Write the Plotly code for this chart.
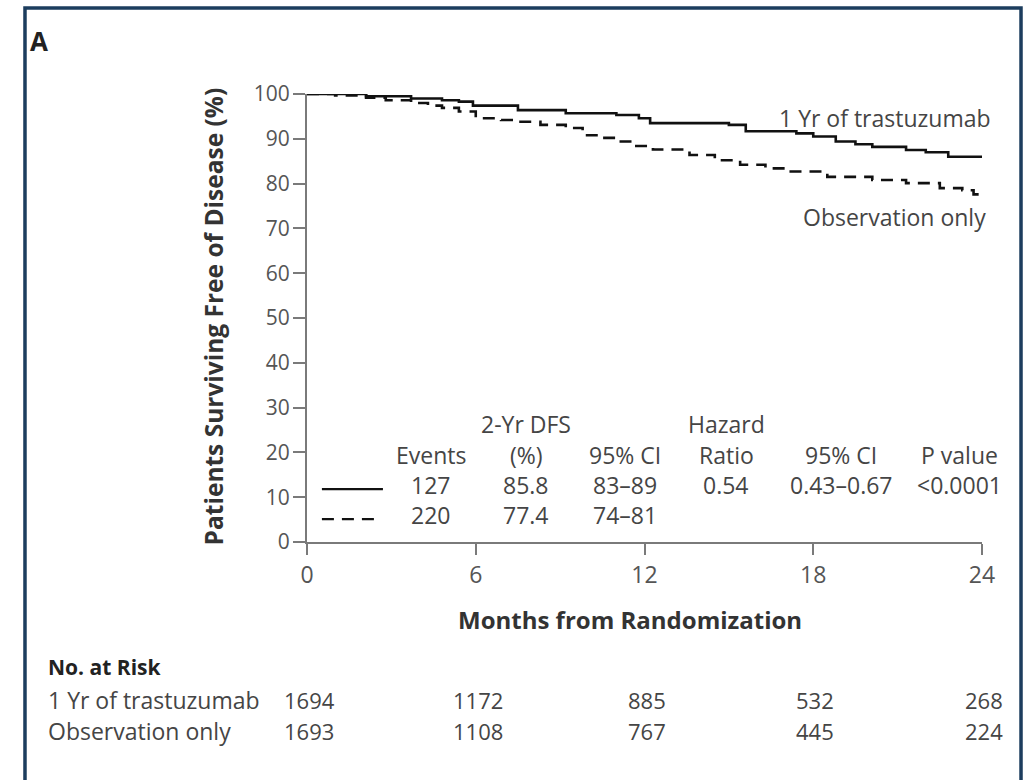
import plotly.graph_objects as go

# ---- data ----
trast_months = [0, 1.5, 2.1, 3.7, 4.8, 5.4, 5.9, 7.5, 9.2, 11.0, 11.8, 12.2, 15.0, 15.6,
                17.4, 18.0, 18.8, 19.5, 20.1, 21.3, 22.0, 22.8, 24]
trast_surv = [100, 100, 99.5, 99.0, 98.6, 98.3, 97.4, 96.4, 95.7, 95.3, 94.6, 93.5, 93.1, 91.7,
              91.2, 90.5, 89.4, 88.8, 88.2, 87.5, 87.0, 86.0, 85.8]

obs_months = [0, 1.0, 2.1, 2.8, 3.7, 4.3, 4.8, 5.4, 6.0, 6.9, 7.5, 8.3, 9.2, 9.8, 10.4, 11.0,
              11.6, 12.3, 13.6, 14.5, 15.4, 16.3, 17.2, 18.5, 20.1, 21.3, 22.5, 23.3, 23.7, 24]
obs_surv = [100, 99.7, 99.2, 98.6, 98.0, 97.4, 96.9, 96.1, 94.6, 94.2, 93.8, 93.1, 92.4, 90.8,
            90.2, 89.4, 88.4, 87.6, 86.4, 85.2, 84.2, 83.4, 82.7, 81.5, 80.8, 80.1, 79.0, 78.5,
            77.6, 77.4]

group_names = ["1 Yr of trastuzumab", "Observation only"]
events = ["127", "220"]
dfs_2yr = ["85.8", "77.4"]
dfs_ci = ["83\u201389", "74\u201381"]
hazard_ratio = "0.54"
hazard_ci = "0.43\u20130.67"
p_value = "<0.0001"

risk_months = [0, 6, 12, 18, 24]
risk_trast = [1694, 1172, 885, 532, 268]
risk_obs = [1693, 1108, 767, 445, 224]

x_ticks = [0, 6, 12, 18, 24]
y_ticks = [0, 10, 20, 30, 40, 50, 60, 70, 80, 90, 100]

# ---- styling ----
FONT = "Open Sans"
TXT = "#454545"
AX = "#7a7a7a"

fig = go.Figure()
fig.add_trace(go.Scatter(x=trast_months, y=trast_surv, mode="lines", line_shape="hv",
                         line=dict(color="#111111", width=2.6), showlegend=False,
                         hoverinfo="skip"))
fig.add_trace(go.Scatter(x=obs_months, y=obs_surv, mode="lines", line_shape="hv",
                         line=dict(color="#111111", width=2.6, dash="12px,8px"),
                         showlegend=False, hoverinfo="skip"))

ann = []

def txt(x, y, s, size=23, color=TXT, xanchor="center", bold=False, xref="x", yref="y", **kw):
    ann.append(dict(x=x, y=y, xref=xref, yref=yref, text=("<b>%s</b>" % s) if bold else s,
                    showarrow=False, xanchor=xanchor, yanchor="middle",
                    font=dict(family=FONT, size=size, color=color), **kw))

# curve labels (anchored at the right end of the time axis)
txt(24, 94.6, group_names[0], xanchor="right", xshift=11)
txt(24, 72.5, group_names[1], xanchor="right", xshift=6)

# statistics table (positions in axis units)
col_x = [4.4, 7.8, 11.3, 14.9, 19.0, 23.2]
row_y = [26.3, 19.4, 12.7, 6.0]
txt(col_x[1], row_y[0], "2-Yr DFS")
txt(col_x[3], row_y[0], "Hazard")
for cx, h in zip(col_x, ["Events", "(%)", "95% CI", "Ratio", "95% CI", "P value"]):
    txt(cx, row_y[1], h)
for i in range(2):
    txt(col_x[0], row_y[2 + i], events[i])
    txt(col_x[1], row_y[2 + i], dfs_2yr[i])
    txt(col_x[2], row_y[2 + i], dfs_ci[i])
txt(col_x[3], row_y[2], hazard_ratio)
txt(col_x[4], row_y[2], hazard_ci)
txt(col_x[5], row_y[2], p_value)

# panel letter
txt(-0.414, 1.118, "A", size=26, color="#222222", xanchor="left", bold=True,
    xref="paper", yref="paper")
# y-axis title
txt(-0.139, 0.504, "Patients Surviving Free of Disease (%)", size=24.5, color="#333333",
    bold=True, textangle=-90, xref="paper", yref="paper")
# x-axis title
txt(0.4785, -0.174, "Months from Randomization", size=24, color="#333333", bold=True,
    xref="paper", yref="paper")

# number at risk
txt(-0.386, -0.279, "No. at Risk", size=21, color="#222222", xanchor="left", bold=True,
    xref="paper", yref="paper")
txt(-0.386, -0.353, group_names[0], xanchor="left", xref="paper", yref="paper")
txt(-0.386, -0.422, group_names[1], xanchor="left", xref="paper", yref="paper")
for m, a, b in zip(risk_months, risk_trast, risk_obs):
    txt(m, -0.353, str(a), size=22, yref="paper", xshift=2)
    txt(m, -0.422, str(b), size=22, yref="paper", xshift=2)

shapes = [
    # frame
    dict(type="rect", xref="paper", yref="paper", x0=-0.4178, x1=1.0578, y0=-0.62, y1=1.192,
         line=dict(color="#1c3d5e", width=3.5), fillcolor="rgba(0,0,0,0)", layer="above"),
    # legend samples in the table
    dict(type="line", xref="x", yref="y", x0=0.53, x1=2.7, y0=11.8, y1=11.8,
         line=dict(color="#111111", width=2.4)),
    dict(type="line", xref="x", yref="y", x0=0.53, x1=2.45, y0=5.1, y1=5.1,
         line=dict(color="#111111", width=2.4, dash="12px,8px")),
]

fig.update_layout(
    width=1033, height=780,
    margin=dict(l=307, r=51, t=94, b=238),
    paper_bgcolor="white", plot_bgcolor="white",
    annotations=ann, shapes=shapes,
    xaxis=dict(range=[0, 24], tickvals=x_ticks, ticktext=[str(v) for v in x_ticks],
               showgrid=False, zeroline=False, showline=True, linecolor=AX, linewidth=2,
               ticks="outside", ticklen=11, tickwidth=2, tickcolor=AX,
               tickfont=dict(family=FONT, size=23, color="#555555")),
    yaxis=dict(range=[0, 100], tickvals=y_ticks, ticktext=[str(v) for v in y_ticks],
               showgrid=False, zeroline=False, showline=True, linecolor=AX, linewidth=2,
               ticks="outside", ticklen=12, tickwidth=2, tickcolor=AX, ticklabelstandoff=-1,
               tickfont=dict(family=FONT, size=21, color="#555555")),
)

fig.write_html("out.html", config={"displayModeBar": False},
               post_script="document.body.style.margin='0';")
